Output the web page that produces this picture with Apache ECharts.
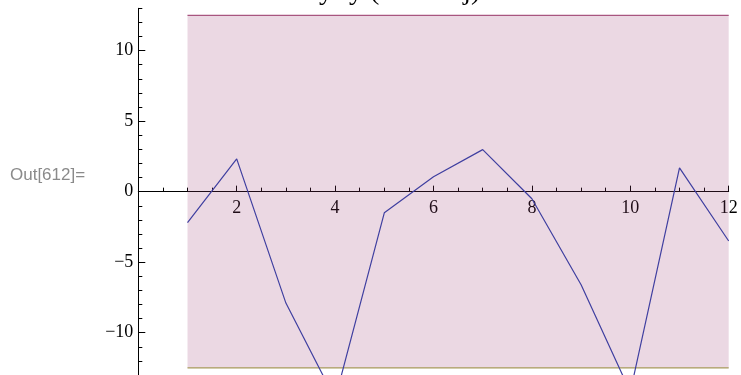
<!DOCTYPE html>
<html>
<head>
<meta charset="utf-8">
<script src="https://cdn.jsdelivr.net/npm/echarts@6/dist/echarts.min.js"></script>
<style>
  html, body { margin: 0; padding: 0; background: #ffffff; }
  #chart { width: 741px; height: 375px; }
</style>
</head>
<body>
<div id="chart"></div>
<script>
// Sample index along the horizontal axis
const xs = [1, 2, 3, 4, 5, 6, 7, 8, 9, 10, 11, 12];
// Measured series (blue line)
const yValues = [-2.2, 2.32, -7.9, -14.7, -1.5, 1.05, 2.98, -0.5, -6.6, -14.2, 1.69, -3.5];
// Limits of the shaded band
const bandUpper = [12.5, 12.5, 12.5, 12.5, 12.5, 12.5, 12.5, 12.5, 12.5, 12.5, 12.5, 12.5];
const bandLower = [-12.5, -12.5, -12.5, -12.5, -12.5, -12.5, -12.5, -12.5, -12.5, -12.5, -12.5, -12.5];
// Tick labels
const xTickLabels = [2, 4, 6, 8, 10, 12];
const yTickLabels = [-10, -5, 0, 5, 10];
const yMinorTicks = [-13, -12, -11, -10, -9, -8, -7, -6, -5, -4, -3, -2, -1, 0, 1, 2, 3, 4, 5, 6, 7, 8, 9, 10, 11, 12, 13];
const titleText = 'Net y\u2212y (total at j)';
const promptText = 'Out[612]=';

const serif = '"Liberation Serif", "DejaVu Serif", serif';
const fmt = v => (v < 0 ? '\u2212' + Math.abs(v) : String(v));

// Plot frame: y runs from -13 to 13 over the full height below the top margin
const Y_MIN = -13, Y_MAX = 13;
const GRID_TOP = 8.3, GRID_BOTTOM = 0, HEIGHT = 375;
// distance from the bottom edge of the frame up to the y = 0 line
const zeroLift = (HEIGHT - GRID_TOP - GRID_BOTTOM) * (0 - Y_MIN) / (Y_MAX - Y_MIN);

const chart = echarts.init(document.getElementById('chart'), null, { renderer: 'canvas' });

const pairs = arr => xs.map((x, i) => [x, arr[i]]);

chart.setOption({
  animation: false,
  backgroundColor: '#ffffff',
  grid: { left: 138.3, right: 12.3, top: GRID_TOP, bottom: GRID_BOTTOM, containLabel: false, outerBoundsMode: 'none' },
  graphic: [
    {
      type: 'text', left: 10, top: 167,
      style: { text: promptText, fill: '#8a8a8a', font: '17px "Liberation Sans", Arial, sans-serif' }
    },
    {
      // title sits above the top edge; only its descenders reach into view
      type: 'text', x: 376, y: 6,
      style: { text: titleText, fill: '#000', font: '28px ' + serif, align: 'center', verticalAlign: 'bottom' }
    }
  ],
  xAxis: {
    type: 'value', min: 0, max: 12, interval: 2,
    position: 'bottom', offset: -zeroLift,
    axisLine: { onZero: false, lineStyle: { color: '#000', width: 1 } },
    axisTick: { inside: true, length: 6, lineStyle: { color: '#000' },
                customValues: xTickLabels },
    minorTick: { show: true, splitNumber: 4, length: 4, lineStyle: { color: '#000' } },
    axisLabel: { customValues: xTickLabels, formatter: fmt, color: '#000',
                 fontFamily: serif, fontSize: 18, margin: 8 },
    splitLine: { show: false }
  },
  yAxis: [
    {
      type: 'value', min: Y_MIN, max: Y_MAX,
      axisLine: { show: true, onZero: false, lineStyle: { color: '#000', width: 1 } },
      axisTick: { inside: true, length: 4, customValues: yMinorTicks, lineStyle: { color: '#000' } },
      axisLabel: { show: false },
      splitLine: { show: false }
    },
    {
      type: 'value', min: Y_MIN, max: Y_MAX, position: 'left',
      axisLine: { show: false, onZero: false },
      axisTick: { inside: true, length: 7, customValues: yTickLabels, lineStyle: { color: '#000' } },
      axisLabel: { customValues: yTickLabels, formatter: fmt, color: '#000',
                   fontFamily: serif, fontSize: 18, margin: 5 },
      splitLine: { show: false }
    }
  ],
  series: [
    {
      name: 'upper', type: 'line', data: pairs(bandUpper),
      symbol: 'none', lineStyle: { color: '#a8557f', width: 1.2 },
      areaStyle: { color: 'rgba(153, 61, 113, 0.2)', opacity: 1, origin: bandLower[0] }, z: 3
    },
    {
      name: 'lower', type: 'line', data: pairs(bandLower),
      symbol: 'none', lineStyle: { color: '#a89a5c', width: 1.2 }, z: 3
    },
    {
      name: 'y', type: 'line', data: pairs(yValues),
      symbol: 'none', lineStyle: { color: '#3f3fa0', width: 1.2 }, z: 4
    }
  ]
});
</script>
</body>
</html>
